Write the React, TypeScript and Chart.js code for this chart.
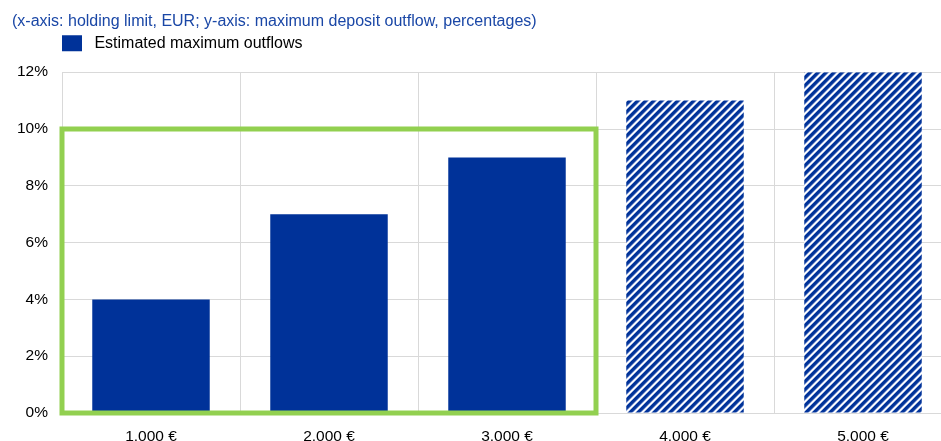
import React, { useEffect, useRef } from 'react';
import { Chart, registerables } from 'chart.js';

Chart.register(...registerables);

const titleText = '(x-axis: holding limit, EUR; y-axis: maximum deposit outflow, percentages)';
const legendLabel = 'Estimated maximum outflows';
const categories = ['1.000 €', '2.000 €', '3.000 €', '4.000 €', '5.000 €'];
const outflows = [4, 7, 9, 11, 12];
const hatched = [false, false, false, true, true];
const yMin = 0;
const yMax = 12;
const yStep = 2;
const highlightFrom = 0;
const highlightTo = 2;
const highlightTop = 10;

const BLUE = '#003299';
const GREEN = '#92d050';
const GRID = '#d9d9d9';
const TITLE_BLUE = '#1a47a6';
const FONT = 'Arial, "Liberation Sans", sans-serif';

function makePattern(): CanvasPattern | string {
  const n = 8;
  const c = document.createElement('canvas');
  c.width = n;
  c.height = n;
  const ctx = c.getContext('2d');
  if (!ctx) return BLUE;
  const img = ctx.createImageData(n, n);
  const shades = [
    [0, 50, 153],
    [0, 50, 153],
    [0, 50, 153],
    [20, 68, 163],
    [120, 145, 205],
    [240, 244, 252],
    [255, 255, 255],
    [150, 170, 215],
  ];
  for (let y = 0; y < n; y++) {
    for (let x = 0; x < n; x++) {
      const k = (x + y) % n;
      const i = (y * n + x) * 4;
      img.data[i] = shades[k][0];
      img.data[i + 1] = shades[k][1];
      img.data[i + 2] = shades[k][2];
      img.data[i + 3] = 255;
    }
  }
  ctx.putImageData(img, 0, 0);
  return ctx.createPattern(c, 'repeat') || BLUE;
}

const highlightPlugin = {
  id: 'highlightBox',
  afterDatasetsDraw(chart: any) {
    const xs = chart.scales.x;
    const ys = chart.scales.y;
    const ctx = chart.ctx;
    const step = xs.getPixelForValue(1) - xs.getPixelForValue(0);
    const left = xs.getPixelForValue(highlightFrom) - step / 2;
    const right = xs.getPixelForValue(highlightTo) + step / 2;
    const top = ys.getPixelForValue(highlightTop);
    const bottom = ys.getPixelForValue(0);
    ctx.save();
    ctx.strokeStyle = GREEN;
    ctx.lineWidth = 5;
    ctx.strokeRect(left, top, right - left, bottom - top);
    ctx.restore();
  },
};

// Legend sits indented under the title, with extra space below it.
const legendTweak = {
  id: 'legendTweak',
  afterInit(chart: any) {
    const lg = chart.legend;
    if (!lg || lg.__patched) return;
    const orig = lg.fit.bind(lg);
    lg.fit = function () {
      orig();
      this.height += 11;
    };
    lg.__patched = true;
  },
  afterLayout(chart: any) {
    if (chart.legend) chart.legend.left += 40;
  },
};

export default function App() {
  const ref = useRef<HTMLCanvasElement | null>(null);

  useEffect(() => {
    document.body.style.margin = '0';
    if (!ref.current) return;
    const pattern = makePattern();
    const colors = hatched.map((h) => (h ? pattern : BLUE));
    const chart = new Chart(ref.current, {
      type: 'bar',
      data: {
        labels: categories,
        datasets: [
          {
            label: legendLabel,
            data: outflows,
            backgroundColor: colors as any,
            borderWidth: 0,
            categoryPercentage: 1,
            barPercentage: 0.66,
          },
        ],
      },
      options: {
        responsive: false,
        animation: false,
        devicePixelRatio: 1,
        layout: { padding: { left: 12, right: 8, top: 0, bottom: 0 } },
        plugins: {
          title: {
            display: true,
            text: titleText,
            align: 'start',
            color: TITLE_BLUE,
            font: { family: FONT, size: 16, weight: 'normal' },
            padding: { top: 12, bottom: -6 },
          },
          tooltip: { enabled: false },
          legend: {
            display: true,
            position: 'top',
            align: 'start',
            labels: {
              boxWidth: 20,
              boxHeight: 16,
              color: '#000',
              padding: 10,
              font: { family: FONT, size: 16 },
              generateLabels: () => [
                {
                  text: ' ' + legendLabel,
                  fillStyle: BLUE,
                  strokeStyle: BLUE,
                  lineWidth: 0,
                  hidden: false,
                  datasetIndex: 0,
                } as any,
              ],
            },
          },
        },
        scales: {
          x: {
            grid: { color: GRID, offset: true, drawTicks: false },
            border: { color: GRID },
            ticks: { color: '#000', padding: 14, font: { family: FONT, size: 15.5 } },
            afterFit: (s: any) => {
              s.height = 28;
            },
          },
          y: {
            min: yMin,
            max: yMax,
            grid: { color: GRID, drawTicks: false },
            border: { display: false },
            ticks: {
              stepSize: yStep,
              color: '#000',
              padding: 14,
              font: { family: FONT, size: 15.5 },
              callback: (v: any) => `${v}%`,
            },
            afterFit: (s: any) => {
              s.width = 50;
            },
          },
        },
      },
      plugins: [highlightPlugin, legendTweak],
    });
    return () => chart.destroy();
  }, []);

  return (
    <div style={{ position: 'relative', width: 941, height: 441, overflow: 'hidden', background: '#fff' }}>
      <canvas ref={ref} width={960} height={441} style={{ display: 'block', width: 960, height: 441 }} />
    </div>
  );
}
